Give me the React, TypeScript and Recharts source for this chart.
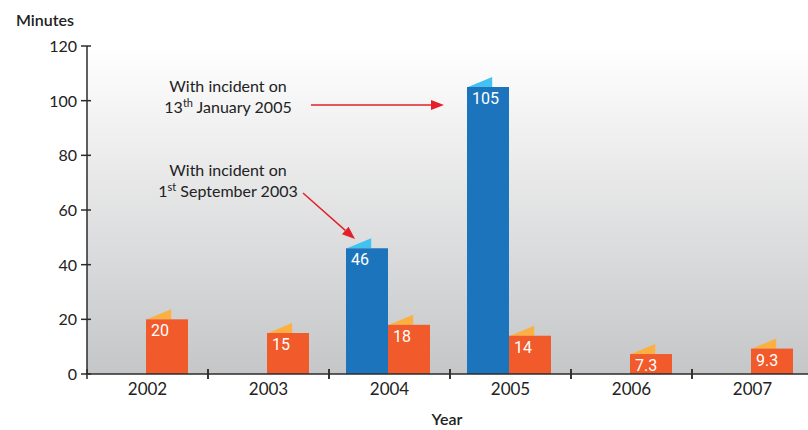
import { BarChart, Bar, XAxis, YAxis, CartesianGrid, LabelList } from 'recharts';

const years = ['2002', '2003', '2004', '2005', '2006', '2007'];
const withIncident = [null, null, 46, 105, null, null];
const withoutIncident = [20, 15, 18, 14, 7.3, 9.3];
const yTicks = [0, 20, 40, 60, 80, 100, 120];

const data = years.map((year, i) => ({ year, incident: withIncident[i], normal: withoutIncident[i] }));

const CHART_W = 813;
const CHART_H = 430;
const MARGIN = { top: 46, right: 0, bottom: 26, left: 0 };
const Y_AXIS_W = 87;
const HALF_BAND = (CHART_W - Y_AXIS_W) / years.length / 2;
const NUDGE = -2; // bars sit a touch left of the band centre in the original

const FONT = 'Lato, "Open Sans", sans-serif';
const AXIS = '#2b2b2b';

// bar with a little folded flap on its top-left corner
const flapBar = (color: string, flap: string) => (props: any) => {
  const { y, width, height } = props;
  const x = props.x + NUDGE;
  if (!height || height <= 0) return <g />;
  const fw = width * 0.6;
  return (
    <g>
      <polygon points={`${x + 1},${y} ${x + fw},${y - 10} ${x + fw},${y}`} fill={flap} />
      <rect x={x} y={y} width={width} height={height} fill={color} />
    </g>
  );
};

const BarLabel = (props: any) => {
  const { x, y, value } = props;
  if (value == null) return null;
  return (
    <text x={x + NUDGE + 5} y={y + 17} fill="#fff" fontSize={16} fontFamily="Roboto, sans-serif">
      {value}
    </text>
  );
};

const YTick = (props: any) => {
  const { x, y, payload } = props;
  return (
    <g>
      <line x1={x - 6} x2={x + 4} y1={y} y2={y} stroke={AXIS} strokeWidth={1.5} />
      <text x={x - 10} y={y + 6} textAnchor="end" fontSize={16} fill="#222" fontFamily={FONT}>
        {payload.value}
      </text>
    </g>
  );
};

const XTick = (props: any) => {
  const { x, y, payload } = props;
  return (
    <g>
      <line x1={x - HALF_BAND} x2={x - HALF_BAND} y1={y - 5} y2={y + 5} stroke={AXIS} strokeWidth={1.5} />
      <line x1={x + HALF_BAND} x2={x + HALF_BAND} y1={y - 5} y2={y + 5} stroke={AXIS} strokeWidth={1.5} />
      <text x={x} y={y + 21} textAnchor="middle" fontSize={17} fill="#222" fontFamily={FONT}>
        {payload.value}
      </text>
    </g>
  );
};

function Arrow({ x1, y1, x2, y2 }: { x1: number; y1: number; x2: number; y2: number }) {
  const len = Math.hypot(x2 - x1, y2 - y1);
  const ux = (x2 - x1) / len;
  const uy = (y2 - y1) / len;
  const bx = x2 - ux * 13;
  const by = y2 - uy * 13;
  const px = -uy * 5;
  const py = ux * 5;
  return (
    <g>
      <line x1={x1} y1={y1} x2={bx} y2={by} stroke="#e3202a" strokeWidth={1.5} />
      <polygon points={`${x2},${y2} ${bx + px},${by + py} ${bx - px},${by - py}`} fill="#e3202a" />
    </g>
  );
}

export default function App() {
  return (
    <div style={{ position: 'absolute', left: 0, top: 0, width: 808, height: 430, overflow: 'hidden', background: '#fff' }}>
      <BarChart width={CHART_W} height={CHART_H} data={data} margin={MARGIN} barGap={0} barSize={42}>
        <defs>
          <linearGradient id="plotBg" x1="0" y1="0" x2="0" y2="1">
            <stop offset="0%" stopColor="#ffffff" />
            <stop offset="100%" stopColor="#c5c6c8" />
          </linearGradient>
        </defs>
        <CartesianGrid horizontal={false} vertical={false} fill="url(#plotBg)" stroke="none" />
        <XAxis
          dataKey="year"
          height={30}
          tickSize={0}
          tickMargin={0}
          tickLine={false}
          axisLine={{ stroke: AXIS, strokeWidth: 1.5 }}
          tick={<XTick />}
          interval={0}
        />
        <YAxis
          width={Y_AXIS_W}
          domain={[0, 120]}
          ticks={yTicks}
          tickSize={0}
          tickMargin={0}
          tickLine={false}
          axisLine={{ stroke: AXIS, strokeWidth: 1.5 }}
          tick={<YTick />}
        />
        <Bar dataKey="incident" fill="#1c75bc" shape={flapBar('#1c75bc', '#41c2f1')} isAnimationActive={false}>
          <LabelList dataKey="incident" content={<BarLabel />} />
        </Bar>
        <Bar dataKey="normal" fill="#f15a2b" shape={flapBar('#f15a2b', '#fbb041')} isAnimationActive={false}>
          <LabelList dataKey="normal" content={<BarLabel />} />
        </Bar>
      </BarChart>

      {/* titles and annotations */}
      <svg width={808} height={430} style={{ position: 'absolute', left: 0, top: 0, pointerEvents: 'none' }}>
        <text x={16} y={26} fontSize={16} fontWeight={600} fill="#222" fontFamily={FONT}>Minutes</text>
        <text x={447} y={425} textAnchor="middle" fontSize={16} fontWeight={600} fill="#222" fontFamily={FONT}>Year</text>

        <g fontSize={16} fill="#222" fontFamily={FONT} textAnchor="middle">
          <text x={228} y={92}>With incident on</text>
          <text x={228} y={113}>
            13<tspan fontSize={11} dy={-6}>th</tspan><tspan dy={6}> January 2005</tspan>
          </text>
          <text x={228} y={176}>With incident on</text>
          <text x={228} y={197}>
            1<tspan fontSize={11} dy={-6}>st</tspan><tspan dy={6}> September 2003</tspan>
          </text>
        </g>
        <Arrow x1={311} y1={105} x2={444} y2={105} />
        <Arrow x1={303} y1={193} x2={355} y2={239} />
      </svg>
    </div>
  );
}
